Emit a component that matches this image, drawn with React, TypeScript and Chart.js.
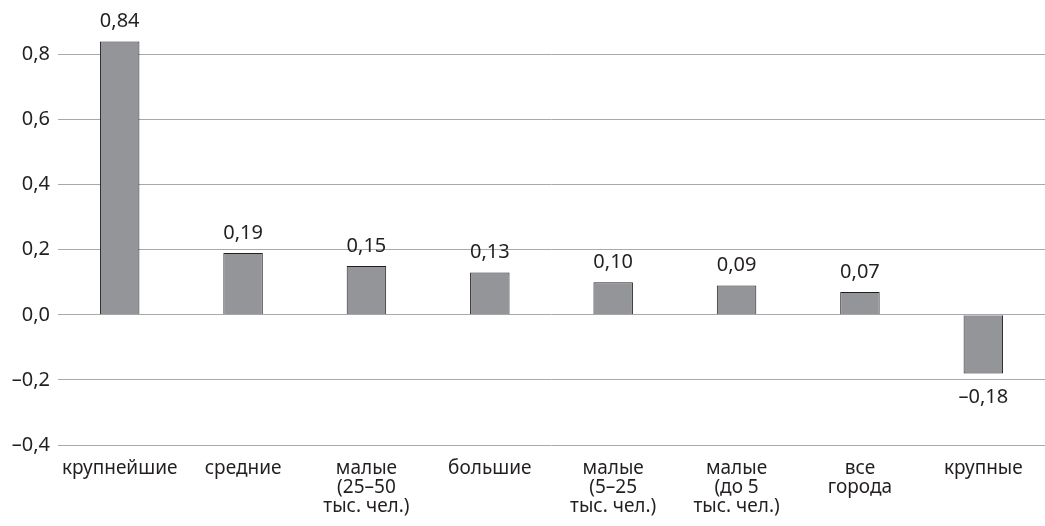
import React, { useEffect, useRef } from "react";
import { Chart, registerables } from "chart.js";

Chart.register(...registerables);

const categories: (string | string[])[] = [
  "крупнейшие",
  "средние",
  ["малые", "(25–50", "тыс. чел.)"],
  "большие",
  ["малые", "(5–25", "тыс. чел.)"],
  ["малые", "(до 5", "тыс. чел.)"],
  ["все", "города"],
  "крупные",
];
const values = [0.84, 0.19, 0.15, 0.13, 0.1, 0.09, 0.07, -0.18];
const yTicks = [-0.4, -0.2, 0, 0.2, 0.4, 0.6, 0.8];

const fmt = (v: number, d: number) =>
  v.toFixed(d).replace(".", ",").replace("-", "–");

const TEXT = "#231f20";
const FONT = "'Noto Sans', sans-serif";

const dataLabels = {
  id: "dataLabels",
  afterDatasetsDraw(chart: any) {
    const ctx = chart.ctx;
    const meta = chart.getDatasetMeta(0);
    ctx.save();
    ctx.fillStyle = TEXT;
    ctx.font = `20px ${FONT}`;
    ctx.textAlign = "center";
    ctx.textBaseline = "middle";
    meta.data.forEach((el: any, i: number) => {
      const v = values[i];
      const y = v >= 0 ? el.y - 20 : el.y + 24;
      ctx.fillText(fmt(v, 2), el.x, y);
    });
    ctx.restore();
  },
};

export default function App() {
  const ref = useRef<HTMLCanvasElement>(null);
  useEffect(() => {
    if (!ref.current) return;
    const chart = new Chart(ref.current, {
      type: "bar",
      data: {
        labels: categories,
        datasets: [
          {
            data: values,
            backgroundColor: "#939598",
            borderColor: TEXT,
            borderWidth: 1,
            barPercentage: 0.32,
            categoryPercentage: 1,
          },
        ],
      },
      options: {
        animation: false,
        responsive: false,
        maintainAspectRatio: false,
        layout: { padding: { top: 22, right: 0, left: 0, bottom: 0 } },
        plugins: { legend: { display: false }, tooltip: { enabled: false } },
        scales: {
          x: {
            grid: { display: false },
            border: { display: false },
            ticks: {
              color: TEXT,
              font: { family: FONT, size: 19, lineHeight: 1.0 },
              padding: 6,
              maxRotation: 0,
              autoSkip: false,
            },
            afterFit: (s: any) => {
              s.height = 81;
            },
          },
          y: {
            min: -0.4,
            max: 0.9,
            border: { display: false },
            grid: { color: "#a7a9ac", lineWidth: 1, drawTicks: false },
            afterBuildTicks: (s: any) => {
              s.ticks = yTicks.map((v) => ({ value: v }));
            },
            ticks: {
              color: TEXT,
              font: { family: FONT, size: 20 },
              padding: 8,
              callback: (v: any) => fmt(Number(v), 1),
            },
            afterFit: (s: any) => {
              s.width = 58;
            },
          },
        },
      },
      plugins: [dataLabels],
    });
    return () => chart.destroy();
  }, []);
  return (
    <div style={{ position: "fixed", left: 0, top: 0, width: 1045, height: 526, background: "#fff" }}>
      <canvas ref={ref} width={1045} height={526} style={{ width: 1045, height: 526 }} />
    </div>
  );
}
